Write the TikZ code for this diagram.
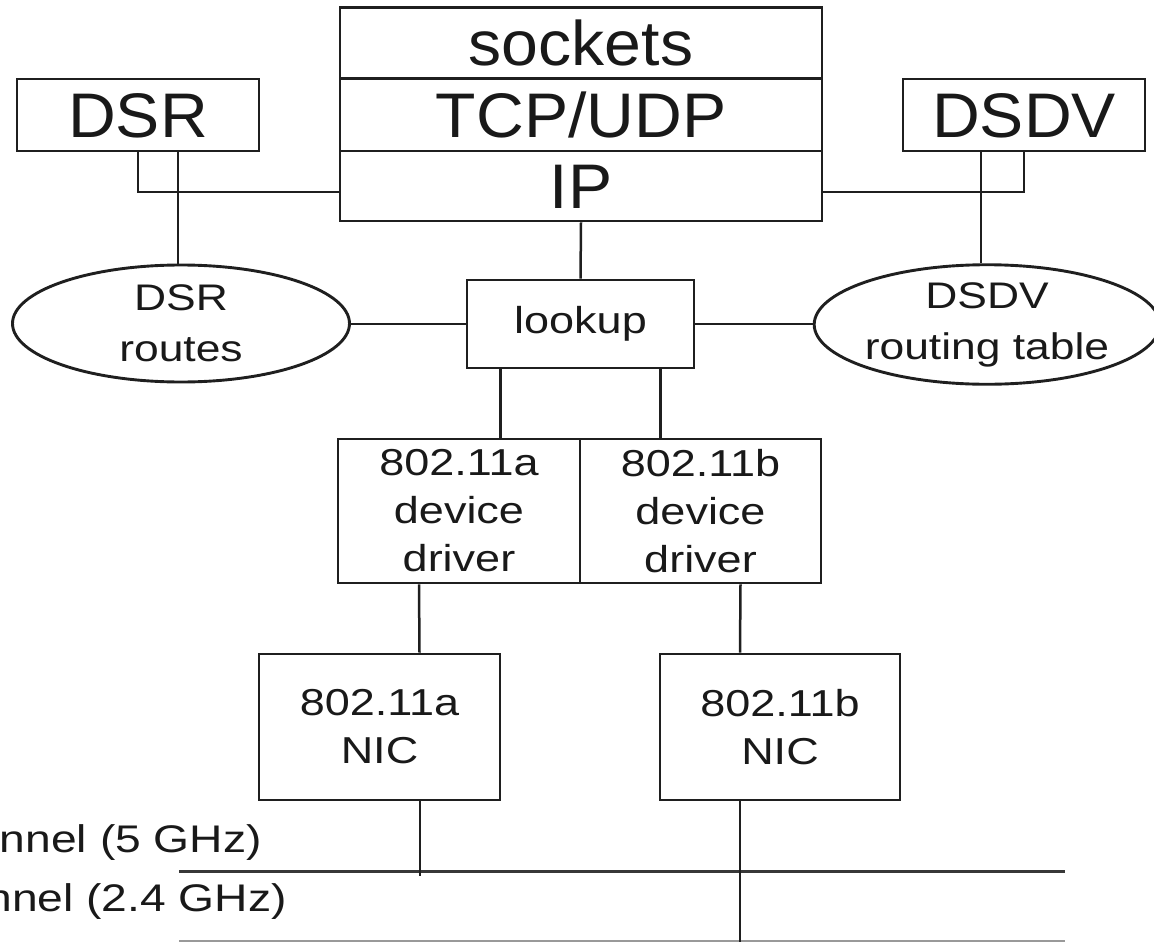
\documentclass[tikz,border=0pt]{standalone}
\usepackage{fontspec}
\setmainfont{Liberation Sans}
\newfontfamily\bigface[FakeStretch=1.05]{Liberation Sans}
\newfontfamily\smallface[FakeStretch=1.2]{Liberation Sans}
\usetikzlibrary{shapes.geometric}
\begin{document}
\begin{tikzpicture}[x=1pt,y=-1pt,
  boxline/.style={line width=2.9pt, draw=black!88},
  wire/.style={line width=2.5pt, draw=black!88},
  layer/.style={boxline, rectangle, inner sep=0pt, text=black!90,
    font=\bigface\fontsize{63}{70}\selectfont, text height=45pt, text depth=0pt},
  unit/.style={boxline, rectangle, inner sep=0pt, align=center, text=black!90,
    font=\smallface\fontsize{37.5}{48}\selectfont},
  store/.style={boxline, ellipse, inner sep=0pt, align=center, text=black!90,
    font=\smallface\fontsize{37}{51}\selectfont},
  chan/.style={inner sep=0pt, text=black!90, font=\smallface\fontsize{38.5}{42}\selectfont}]
\useasboundingbox (0,0) rectangle (1154,942);
\clip (0,0) rectangle (1154,942);

% protocol stack
\node[layer, minimum width=482pt, minimum height=71pt] (sock) at (581,43) {sockets};
\node[layer, minimum width=482pt, minimum height=72pt] (tcp) at (581,115) {TCP/UDP};
\node[layer, minimum width=482pt, minimum height=70pt] (ip) at (581,186) {IP};

% routing daemons
\node[layer, minimum width=242pt, minimum height=72pt] (dsr) at (138,115) {DSR};
\node[layer, minimum width=242pt, minimum height=72pt] (dsdv) at (1024,115) {DSDV};

% route lookup and tables
\node[unit, minimum width=227pt, minimum height=88pt] (lookup) at (580.5,324) {lookup};
\node[store, minimum width=337pt, minimum height=117pt] (dsrr) at (181,323.5) {DSR\\routes};
\node[store, minimum width=330pt, minimum height=115pt] (dsdvr) at (987,324.5) {DSDV\\routing table};

% drivers and interface cards
\node[unit, minimum width=242pt, minimum height=144pt] (drva) at (459,511) {802.11a\\device\\driver};
\node[unit, minimum width=241pt, minimum height=144pt] (drvb) at (700.5,511) {802.11b\\device\\driver};
\node[unit, minimum width=241pt, minimum height=146pt] (nica) at (379.5,727) {802.11a\\NIC};
\node[unit, minimum width=240pt, minimum height=146pt] (nicb) at (780,727) {802.11b\\NIC};

% radio channels
\coordinate (c5w) at (179,871);
\coordinate (c5e) at (1065,871);
\coordinate (c24w) at (179,941);
\coordinate (c24e) at (1065,941);
\coordinate (a5) at (419.5,876);
\coordinate (b24) at (740,942);
\draw[line width=3pt, draw=black!78] (c5w) -- (c5e);
\draw[line width=1.6pt, draw=black!40] (c24w) -- (c24e);
\node[chan, anchor=east] (l5) at (262,843) {channel (5 GHz)};
\node[chan, anchor=east] (l24) at (287,902) {channel (2.4 GHz)};

% connections
\draw[wire] (dsr.south) |- ([yshift=-6pt]ip.west);
\draw[wire] ([xshift=40pt]dsr.south) -- ([xshift=40pt]dsr.south |- dsrr.north);
\draw[wire] (dsdv.south) |- ([yshift=-6pt]ip.east);
\draw[wire] ([xshift=-43pt]dsdv.south) -- ([xshift=-43pt]dsdv.south |- dsdvr.north);
\draw[wire] (ip.south) -- (lookup.north);
\draw[wire] (lookup.west) -- (lookup.west -| dsrr.east);
\draw[wire] (lookup.east) -- (lookup.east -| dsdvr.west);
\draw[wire] ([xshift=-80pt]lookup.south) -- ([xshift=-80pt]lookup.south |- drva.north);
\draw[wire] ([xshift=80pt]lookup.south) -- ([xshift=80pt]lookup.south |- drvb.north);
\draw[wire] ([xshift=-40pt]drva.south) -- ([xshift=40pt]nica.north);
\draw[wire] ([xshift=40pt]drvb.south) -- ([xshift=-40pt]nicb.north);
\draw[wire, line width=2pt] ([xshift=40pt]nica.south) -- (a5);
\draw[wire, line width=2pt] ([xshift=-40pt]nicb.south) -- (b24);
\end{tikzpicture}
\end{document}
